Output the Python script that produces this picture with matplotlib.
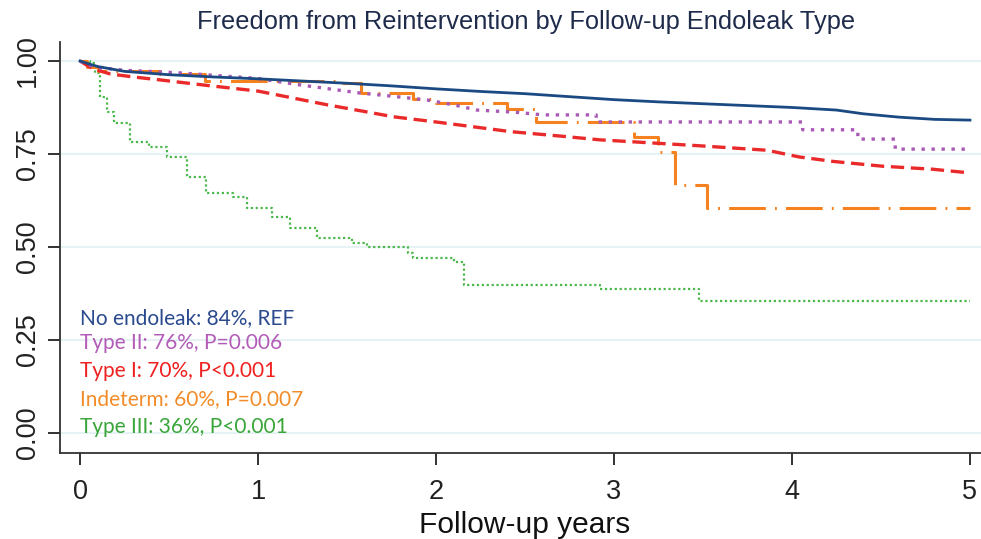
import matplotlib.pyplot as plt
import numpy as np

# Kaplan-Meier estimates (repeated times = step drops)
t_none = [0, 0.05, 0.1, 0.25, 0.5, 0.75, 1.0, 1.25, 1.5, 1.75, 2.0, 2.25, 2.5, 2.75, 3.0, 3.25, 3.5, 3.75, 4.0, 4.25, 4.4, 4.6, 4.8, 5.0]
s_none = [1.0, 0.992, 0.985, 0.972, 0.963, 0.957, 0.952, 0.946, 0.94, 0.933, 0.925, 0.918, 0.912, 0.904, 0.896, 0.89, 0.885, 0.88, 0.875, 0.868, 0.858, 0.849, 0.843, 0.841]

t_t2 = [0, 0.04, 0.1, 0.25, 0.56, 0.79, 1.0, 1.2, 1.4, 1.57, 1.76, 1.95, 2.1, 2.23, 2.45, 2.6, 2.9, 2.9, 4.06, 4.06, 4.37, 4.37, 4.58, 4.58, 5.0]
s_t2 = [1.0, 0.99, 0.982, 0.975, 0.968, 0.96, 0.953, 0.938, 0.925, 0.914, 0.905, 0.895, 0.882, 0.868, 0.862, 0.855, 0.855, 0.836, 0.836, 0.815, 0.815, 0.79, 0.79, 0.763, 0.763]

t_t1 = [0, 0.05, 0.1, 0.17, 0.3, 0.45, 0.7, 1.0, 1.2, 1.39, 1.6, 1.76, 2.0, 2.13, 2.42, 2.7, 2.92, 3.2, 3.48, 3.86, 4.04, 4.23, 4.51, 4.79, 5.0]
s_t1 = [1.0, 0.985, 0.975, 0.965, 0.957, 0.949, 0.935, 0.919, 0.9, 0.882, 0.864, 0.85, 0.836, 0.828, 0.81, 0.798, 0.788, 0.78, 0.772, 0.76, 0.742, 0.73, 0.717, 0.709, 0.699]

t_ind = [0, 0.04, 0.1, 0.45, 0.7, 1.45, 1.58, 1.87, 2.0, 2.4, 2.56, 3.11, 3.25, 3.34, 3.52, 5.0]
s_ind = [1.0, 0.985, 0.972, 0.966, 0.945, 0.94, 0.914, 0.897, 0.887, 0.871, 0.836, 0.796, 0.755, 0.667, 0.605, 0.605]

t_t3 = [0, 0.056, 0.084, 0.11, 0.15, 0.19, 0.28, 0.39, 0.49, 0.6, 0.71, 0.86, 0.94, 1.08, 1.18, 1.33, 1.53, 1.61, 1.84, 1.87, 2.1, 2.16, 2.92, 3.48, 5.0]
s_t3 = [1.0, 0.995, 0.968, 0.904, 0.863, 0.833, 0.782, 0.769, 0.742, 0.688, 0.645, 0.635, 0.605, 0.581, 0.551, 0.525, 0.51, 0.5, 0.483, 0.47, 0.46, 0.398, 0.387, 0.355, 0.355]

labels = ['No endoleak: 84%, REF', 'Type II: 76%, P=0.006', 'Type I: 70%, P<0.001',
          'Indeterm: 60%, P=0.007', 'Type III: 36%, P<0.001']
text_colors = ['#2b4a8e', '#b25cb8', '#ee2020', '#f28c28', '#3aa63a']

fig = plt.figure(figsize=(9.81, 5.39), dpi=100)
ax = fig.add_axes([0.0612, 0.1596, 0.9388, 0.7625])

ax.plot(t_t3, s_t3, color='#4cb84c', lw=1.6, ls=(0, (1, 1.2)), drawstyle='steps-post')
ax.plot(t_ind, s_ind, color='#f5821f', lw=2.2, ls=(0, (12, 3, 0.6, 3)), drawstyle='steps-post')
ax.plot(t_t1, s_t1, color='#ea2a2a', lw=2.4, ls=(0, (4, 2)))
ax.plot(t_t2, s_t2, color='#a85ab5', lw=2.4, ls=(0, (1, 2)))
ax.plot(t_none, s_none, color='#1b4a82', lw=2.0)

ax.set_xlim(-0.1124, 5.062)
ax.set_ylim(-0.0538, 1.051)
ax.set_xticks([0, 1, 2, 3, 4, 5])
ax.set_yticks([0, 0.25, 0.5, 0.75, 1.0])
ax.set_yticklabels(['0.00', '0.25', '0.50', '0.75', '1.00'], rotation=90, va='center')
ax.tick_params(labelsize=19.5, length=8.6, width=1.3, direction='out', colors='#222222')
ax.tick_params(axis='x', pad=10)
ax.tick_params(axis='y', pad=5)
for lbl in ax.get_xticklabels() + ax.get_yticklabels():
    lbl.set_fontfamily('Liberation Sans')
ax.grid(axis='y', color='#e6f2f4', lw=1.5)
ax.set_axisbelow(True)
for s in ['top', 'right']:
    ax.spines[s].set_visible(False)
for s in ['left', 'bottom']:
    ax.spines[s].set_linewidth(1.3)
    ax.spines[s].set_color('#333333')

ax.set_xlabel('Follow-up years', fontsize=21.5, family='Liberation Sans', color='#111111')
ax.xaxis.set_label_coords(0.505, -0.175)
ax.xaxis.label.set_va('center')
fig.text(0.536, 0.96, 'Freedom from Reintervention by Follow-up Endoleak Type',
         ha='center', va='center', fontsize=18.3, family='Liberation Sans', color='#1e2b4a')

ys = [318, 343, 371, 399, 427]
for lab, c, yp in zip(labels, text_colors, ys):
    fig.text(80 / 981, 1 - yp / 539, lab, color=c, fontsize=15, family='Lato', va='center', ha='left')

fig.savefig('out.png', dpi=100)
